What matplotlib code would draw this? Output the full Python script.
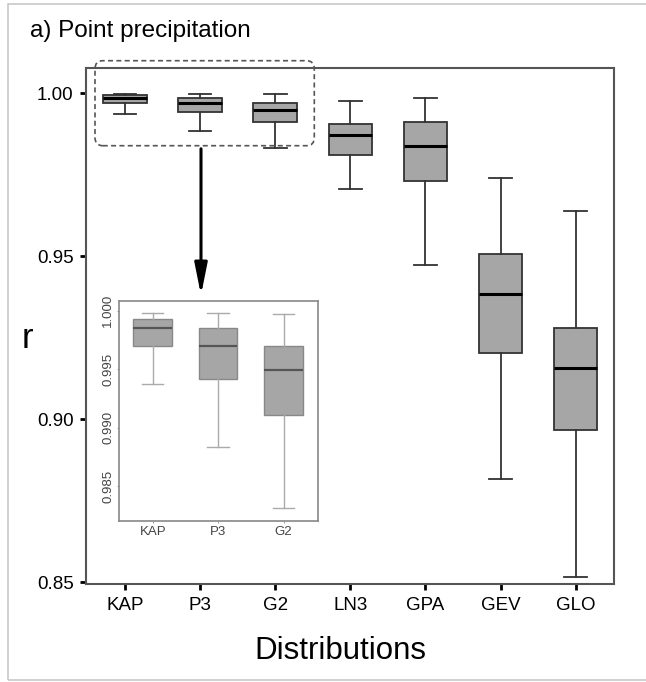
import matplotlib
matplotlib.use("Agg")
from matplotlib import pyplot as plt
from matplotlib.patches import FancyBboxPatch, Rectangle

plt.rcParams['font.family'] = ['Liberation Sans', 'DejaVu Sans']

# distributions and box statistics
dists = ['KAP', 'P3', 'G2', 'LN3', 'GPA', 'GEV', 'GLO']
whis_hi = [0.9998, 0.9998, 0.99975, 0.99764, 0.99837, 0.97383, 0.96380]
q3 = [0.9993, 0.9985, 0.99695, 0.99049, 0.99120, 0.95052, 0.92801]
med = [0.99855, 0.9970, 0.99492, 0.98712, 0.98374, 0.93825, 0.91555]
q1 = [0.99697, 0.99415, 0.99114, 0.98098, 0.97301, 0.92034, 0.89663]
whis_lo = [0.99372, 0.98838, 0.98314, 0.97064, 0.94715, 0.88160, 0.85144]

main_ticks = [0.85, 0.90, 0.95, 1.00]
inset_ticks = [0.985, 0.990, 0.995, 1.000]
n_inset = 3

W, H = 646, 682


def stats(i):
    return dict(med=med[i], q1=q1[i], q3=q3[i], whislo=whis_lo[i],
                whishi=whis_hi[i], fliers=[], label=dists[i])


fig = plt.figure(figsize=(W / 100, H / 100), dpi=100)

# outer frame
fig.patches.append(Rectangle((8 / W, 1 - 680 / H), 1, (680 - 4) / H,
                             transform=fig.transFigure, fill=False,
                             edgecolor='#c8c8c8', lw=1.2))

# main panel
ax = fig.add_axes([86 / W, 1 - 584 / H, (614 - 86) / W, (584 - 68) / H])
ax.bxp([stats(i) for i in range(len(dists))], positions=range(1, 8),
       widths=0.58, patch_artist=True, showfliers=False,
       boxprops=dict(facecolor='#a6a6a6', edgecolor='#333333', lw=1.3),
       medianprops=dict(color='black', lw=2.2),
       whiskerprops=dict(color='#333333', lw=1.3),
       capprops=dict(color='#333333', lw=1.3),
       capwidths=0.3)
ax.set_xlim(0.48, 7.51)
ax.set_ylim(0.8494, 1.0077)
ax.set_yticks(main_ticks)
ax.set_yticklabels(['%.2f' % t for t in main_ticks])
ax.set_xticks(range(1, 8))
ax.set_xticklabels(dists)
ax.tick_params(axis='both', length=4, width=2, labelsize=13.5,
               colors='black', pad=5)
for s in ax.spines.values():
    s.set_color('#555555')
    s.set_linewidth(1.5)

# inset zoom on first three
axi = fig.add_axes([119.3 / W, 1 - 520.7 / H, (317.7 - 119.3) / W,
                    (520.7 - 301) / H])
axi.bxp([stats(i) for i in range(n_inset)], positions=range(1, n_inset + 1),
        widths=0.59, patch_artist=True, showfliers=False,
        boxprops=dict(facecolor='#a6a6a6', edgecolor='#888888', lw=1.0),
        medianprops=dict(color='#555555', lw=1.6),
        whiskerprops=dict(color='#aaaaaa', lw=1.0),
        capprops=dict(color='#aaaaaa', lw=1.0),
        capwidths=0.33)
axi.set_xlim(0.49, 3.52)
axi.set_ylim(0.98208, 1.00083)
axi.set_yticks(inset_ticks)
axi.set_yticklabels(['%.3f' % t for t in inset_ticks], rotation=90,
                    va='center')
axi.set_xticks(range(1, n_inset + 1))
axi.set_xticklabels(dists[:n_inset])
axi.tick_params(axis='both', length=1.5, width=0.6, labelsize=9.5,
                colors='#888888', labelcolor='#444444', pad=2)
for s in axi.spines.values():
    s.set_color('#888888')
    s.set_linewidth(1.2)

# dashed box around the top of the first three boxes
fig.patches.append(FancyBboxPatch((95 / W, 1 - 145.7 / H), (314.3 - 95) / W,
                                  (145.7 - 60.7) / H,
                                  boxstyle='round,pad=0,rounding_size=0.012',
                                  transform=fig.transFigure, fill=False,
                                  edgecolor='#555555', lw=1.2, ls=(0, (3, 2))))

# arrow to inset
fig.add_artist(plt.Annotation('', xy=(201 / W, 1 - 298 / H),
                              xytext=(201 / W, 1 - 146 / H),
                              xycoords='figure fraction',
                              textcoords='figure fraction',
                              arrowprops=dict(arrowstyle='-|>,head_length=1.9,head_width=0.38',
                                              color='black', lw=2.2)))

fig.text(30 / W, 1 - 31 / H, 'a) Point precipitation', fontsize=17.5,
         va='center', ha='left')
fig.text(27 / W, 1 - 338 / H, 'r', fontsize=25, va='center', ha='center')
fig.text(340 / W, 1 - 651 / H, 'Distributions', fontsize=22.5, va='center',
         ha='center')

fig.savefig('out.png', dpi=100)
